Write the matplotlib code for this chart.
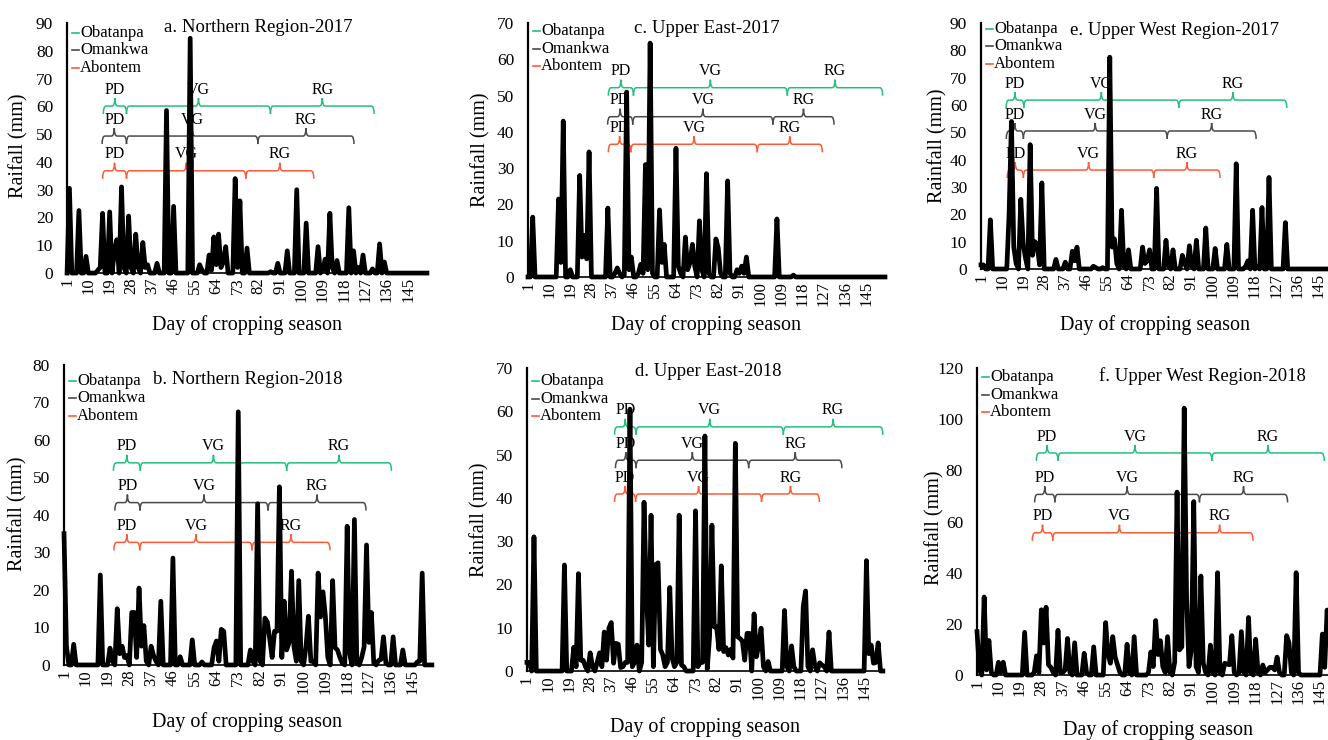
import numpy as np
import matplotlib
matplotlib.use("Agg")
import matplotlib.pyplot as plt
from matplotlib.path import Path
from matplotlib.patches import PathPatch

plt.rcParams['font.family'] = ['Liberation Serif', 'DejaVu Serif']

N_DAYS = 153
FIG_W, FIG_H = 1328, 740
tick_days = list(range(1, 146, 9))
varieties = ["Obatanpa", "Omankwa", "Abontem"]
phases = ["PD", "VG", "RG"]
colors = ["#22c07a", "#4a4a4a", "#ff5a36"]

# daily rainfall as (day, mm); days not listed had no rain
rain_north_2017 = [(2, 30.5), (6, 22.5), (9, 6), (14, 1), (15, 2), (16, 21.5), (19, 22), (21, 8),
                   (22, 12), (24, 31), (25, 2), (27, 20.5), (28, 2), (30, 14), (31, 2), (33, 11),
                   (34, 2), (35, 3), (39, 3.5), (43, 58.5), (46, 24), (53, 84.5), (57, 3), (58, 1),
                   (61, 6.5), (62, 1), (63, 13), (64, 3), (65, 14), (66, 2), (67, 4), (68, 9.5),
                   (72, 34), (73, 2), (74, 26), (77, 9), (87, 0.5), (90, 3.5), (94, 8), (98, 30),
                   (102, 18), (107, 9.5), (109, 1), (110, 5), (112, 21.5), (113, 2), (115, 4.5),
                   (120, 23.5), (122, 8), (124, 2), (126, 6.5), (130, 1.5), (133, 10.5), (135, 4)]

rain_north_2018 = [(1, 35), (2, 5), (5, 5.5), (16, 24), (20, 4.5), (21, 1), (23, 15), (24, 3), (25, 5),
                   (26, 2), (27, 2.5), (29, 14), (30, 14), (31, 2), (32, 20.5), (33, 5), (34, 10.5),
                   (35, 1), (37, 5), (38, 2.5), (39, 1), (41, 17), (46, 28.5), (49, 2.2), (54, 6.7),
                   (58, 0.8), (63, 4.6), (64, 6.4), (65, 1), (66, 9.5), (67, 9), (73, 67.5), (78, 4),
                   (79, 1), (81, 43), (82, 1), (84, 12.5), (85, 11.5), (86, 7), (87, 2), (88, 9),
                   (89, 9), (90, 47.5), (91, 2), (92, 17), (93, 4), (94, 6), (95, 25), (96, 5),
                   (97, 1), (98, 22.5), (99, 1), (101, 5), (102, 13), (103, 1), (104, 1), (106, 24.5),
                   (107, 12.8), (108, 19.5), (109, 13), (110, 2), (112, 22.5), (113, 4.6), (114, 4),
                   (115, 2), (116, 0.5), (118, 37), (119, 3), (121, 38.8), (122, 0.5), (124, 2),
                   (125, 4.8), (126, 32), (127, 6), (128, 14), (129, 0.5), (131, 1.2), (132, 1.5),
                   (133, 7.5), (134, 0.5), (137, 7.5), (141, 4), (147, 0.8), (148, 1), (149, 24.5)]

rain_east_2017 = [(3, 16.5), (14, 21.5), (15, 4), (16, 43), (19, 2), (23, 28), (24, 5.5), (25, 11.5),
                  (26, 5), (27, 34.5), (35, 19), (38, 1), (39, 2.5), (40, 1), (42, 0.5), (43, 51),
                  (44, 2), (45, 5.5), (48, 1), (49, 3.5), (50, 1), (51, 31), (52, 2), (53, 64.5),
                  (54, 1), (57, 18.5), (58, 4), (59, 9), (64, 35.5), (65, 3), (66, 1), (68, 11),
                  (69, 2), (70, 4), (71, 9), (72, 3), (74, 15.5), (75, 2), (77, 28.5), (78, 1),
                  (81, 10.5), (82, 8), (83, 1), (86, 26.5), (87, 1), (90, 2), (91, 1), (92, 3),
                  (93, 1), (94, 5.5), (107, 16), (114, 0.5)]

rain_east_2018 = [(1, 2), (2, 2), (4, 31), (17, 24.5), (21, 5.5), (22, 1), (23, 22.5), (24, 2.5),
                  (25, 2.5), (26, 1), (28, 4.2), (29, 1), (31, 2), (32, 4.2), (33, 1), (34, 9),
                  (35, 2.5), (36, 9.9), (37, 11.2), (38, 1.8), (39, 6.4), (40, 6.2), (41, 0.8),
                  (42, 1), (43, 2), (44, 2), (45, 60.5), (46, 1), (47, 2), (48, 6), (50, 2), (51, 39),
                  (52, 18), (53, 6), (54, 36), (55, 1), (56, 24.6), (57, 25), (58, 5), (59, 3.7),
                  (60, 1), (61, 2), (62, 19.3), (63, 3), (64, 1), (65, 2), (66, 36), (67, 1.4),
                  (68, 1), (73, 37), (74, 1), (75, 2), (76, 2), (77, 54.3), (78, 0.5), (79, 8),
                  (80, 33.7), (81, 10.2), (82, 10.2), (83, 5), (84, 24.3), (85, 4.5), (86, 5.4),
                  (87, 3.7), (88, 5), (89, 3), (90, 52.6), (91, 7.9), (92, 7.5), (93, 6.9), (94, 2.5),
                  (95, 8.7), (96, 8.7), (98, 13.2), (99, 3.3), (100, 6), (101, 9.9), (102, 1),
                  (104, 2.2), (111, 14), (112, 1), (114, 5.8), (115, 1), (119, 14.9), (120, 18.5),
                  (121, 1), (123, 4.9), (124, 1), (126, 1.9), (127, 1.4), (128, 1), (130, 9),
                  (146, 25.5), (147, 4), (148, 6), (149, 1.8), (150, 2), (151, 6.5)]

rain_west_2017 = [(1, 1.5), (2, 1.5), (5, 18), (13, 20), (14, 54), (15, 8), (16, 2), (18, 25.5),
                  (19, 9.5), (20, 4), (22, 45.5), (23, 5), (24, 10), (25, 9), (26, 1.5), (27, 31.5),
                  (33, 3.5), (37, 2.5), (40, 6.5), (41, 3), (42, 8), (49, 1), (50, 0.5), (53, 0.5),
                  (56, 77.5), (57, 8), (58, 11), (59, 2), (61, 21.5), (62, 1), (64, 7), (70, 8),
                  (71, 2), (72, 3), (73, 7), (76, 29.5), (80, 10.5), (81, 1), (83, 7), (87, 5),
                  (88, 2), (90, 8.5), (91, 1), (93, 10.5), (97, 15), (101, 7.5), (106, 9),
                  (110, 38.5), (114, 1), (115, 3), (117, 21.5), (119, 1), (121, 22.5), (124, 33.5),
                  (131, 17)]

rain_west_2018 = [(1, 17), (2, 2), (4, 30.5), (5, 2), (6, 13.5), (7, 1), (10, 5), (11, 1), (12, 5),
                  (21, 16.7), (25, 1), (26, 7.5), (27, 1), (28, 25.5), (29, 12.5), (30, 26.5),
                  (31, 4), (32, 3), (33, 1), (35, 17.5), (36, 1), (37, 1), (38, 2), (39, 14.3),
                  (40, 1), (42, 12.6), (46, 8.5), (47, 1), (50, 11), (55, 20.5), (56, 8), (57, 4.6),
                  (58, 15), (59, 7), (60, 4), (61, 1), (64, 12), (65, 1), (67, 15), (73, 1), (74, 9),
                  (75, 3.3), (76, 21.3), (77, 8), (78, 13.4), (79, 3.3), (80, 1), (81, 15), (82, 1),
                  (84, 5), (85, 71.5), (86, 9.8), (87, 11), (88, 104.3), (89, 30), (90, 3.3),
                  (91, 10), (92, 67.8), (93, 3.3), (94, 1), (95, 38.7), (96, 4.6), (97, 1),
                  (99, 11.7), (100, 1), (102, 40), (103, 1), (105, 4.6), (106, 4.3), (107, 4),
                  (108, 15.4), (109, 1), (111, 1), (112, 17), (113, 1), (115, 22.5), (116, 1),
                  (118, 14), (119, 1), (121, 3.9), (122, 1), (123, 2), (124, 3), (125, 3), (126, 2),
                  (127, 7), (128, 1), (131, 15.4), (132, 12.6), (133, 1), (135, 40), (136, 1),
                  (146, 16), (147, 3), (148, 25.4), (149, 10)]

# growth stage boundaries in days: start PD, start VG, start RG, end RG (Obatanpa, Omankwa, Abontem)
stages_north_2017 = [[16.3, 26.1, 86.9, 130.7], [15.8, 26.1, 81.6, 122.2], [16.0, 26.1, 76.5, 105.2]]
stages_north_2018 = [[21.4, 32.5, 93.0, 136.3], [22.0, 32.4, 85.3, 125.8], [21.6, 32.3, 78.7, 110.9]]
stages_east_2017 = [[35.2, 45.9, 111.4, 152.0], [34.9, 45.6, 105.3, 131.3], [35.2, 44.8, 98.6, 126.3]]
stages_east_2018 = [[38.4, 47.6, 110.5, 153.0], [38.8, 47.6, 95.7, 135.5], [38.4, 47.4, 101.2, 125.9]]
stages_west_2017 = [[11.7, 19.3, 85.5, 131.6], [11.8, 19.1, 80.5, 118.5], [12.2, 19.1, 74.8, 103.1]]
stages_west_2018 = [[25.9, 35.0, 99.6, 146.8], [25.2, 33.7, 94.4, 131.4], [24.2, 32.8, 88.8, 116.9]]


def daily_series(pairs):
    s = np.zeros(N_DAYS)
    for d, mm in pairs:
        s[d - 1] = mm
    return s


def draw_brace(ax, x0, x1, y, color, hook, tip, label):
    dx = 1.2
    xm = (x0 + x1) / 2
    verts = [(x0, y - hook), (x0, y), (x0 + dx, y), (xm - dx, y), (xm, y), (xm, y + tip),
             (xm, y), (xm + dx, y), (x1 - dx, y), (x1, y), (x1, y - hook)]
    codes = [Path.MOVETO, Path.CURVE3, Path.CURVE3, Path.LINETO, Path.CURVE3, Path.CURVE3,
             Path.CURVE3, Path.CURVE3, Path.LINETO, Path.CURVE3, Path.CURVE3]
    ax.add_patch(PathPatch(Path(verts, codes), facecolor="none", edgecolor=color,
                           lw=1.1, zorder=2, clip_on=False))
    ax.text(xm, y + tip * 1.05, label, ha="center", va="bottom", fontsize=11.5, zorder=1)


panels = [
    dict(rect=[0.0505, 0.631, 0.271, 0.338], title="a. Northern Region-2017", title_xy=(0.53, 0.98),
         rain=rain_north_2017, stages=stages_north_2017, ymax=90, ystep=10, levels=[60.1, 49.3, 36.8],
         ylabel="Raifall (mm)", ylabel_xy=(-0.108, 0.51), xlabel_xy=(0.5, -0.168), legend_y=0.96),
    dict(rect=[0.3976, 0.6257, 0.2688, 0.343], title="c. Upper East-2017", title_xy=(0.50, 0.98),
         rain=rain_east_2017, stages=stages_east_2017, ymax=70, ystep=10, levels=[52.2, 44.2, 36.6],
         ylabel="Rainfall (mm)", ylabel_xy=(-0.106, 0.5), xlabel_xy=(0.5, -0.15), legend_y=0.969),
    dict(rect=[0.7387, 0.6365, 0.268, 0.3324], title="e. Upper West Region-2017", title_xy=(0.545, 0.97),
         rain=rain_west_2017, stages=stages_west_2017, ymax=90, ystep=10, levels=[61.8, 50.5, 36.2],
         ylabel="Rainfall (mm)", ylabel_xy=(-0.093, 0.5), xlabel_xy=(0.49, -0.187), legend_y=0.976),
    dict(rect=[0.0482, 0.1014, 0.277, 0.4054], title="b. Northern Region-2018", title_xy=(0.50, 0.95),
         rain=rain_north_2018, stages=stages_north_2018, ymax=80, ystep=10, levels=[53.9, 43.3, 32.7],
         ylabel="Rainfall (mm)", ylabel_xy=(-0.10, 0.503), xlabel_xy=(0.497, -0.157), legend_y=0.947),
    dict(rect=[0.3968, 0.0932, 0.268, 0.4095], title="d. Upper East-2018", title_xy=(0.51, 0.987),
         rain=rain_east_2018, stages=stages_east_2018, ymax=70, ystep=10, levels=[56.4, 48.7, 40.9],
         ylabel="Rainfall (mm)", ylabel_xy=(-0.104, 0.5), xlabel_xy=(0.5, -0.152), legend_y=0.957),
    dict(rect=[0.7357, 0.0878, 0.2726, 0.4149], title="f. Upper West Region-2018", title_xy=(0.624, 0.974),
         rain=rain_west_2018, stages=stages_west_2018, ymax=120, ystep=20, levels=[86.8, 70.6, 55.6],
         ylabel="Rainfall (mm)", ylabel_xy=(-0.091, 0.48), xlabel_xy=(0.5, -0.148), legend_y=0.97),
]

fig = plt.figure(figsize=(FIG_W / 100, FIG_H / 100), dpi=100)
days = np.arange(1, N_DAYS + 1)

for p in panels:
    ax = fig.add_axes(p["rect"])
    w_px = p["rect"][2] * FIG_W
    h_px = p["rect"][3] * FIG_H
    per_px = p["ymax"] / h_px

    ax.plot(days, daily_series(p["rain"]), color="black", lw=3.4, zorder=5, clip_on=False)

    ax.set_xlim(1, N_DAYS)
    ax.set_ylim(0, p["ymax"])
    ax.set_xticks(tick_days)
    ax.set_xticklabels([str(t) for t in tick_days], rotation=90, fontsize=12)
    ax.set_yticks(np.arange(0, p["ymax"] + 1, p["ystep"]))
    ax.tick_params(axis="y", length=0, pad=10, labelsize=12.5)
    ax.tick_params(axis="x", length=0, pad=3)
    for side in ["top", "right"]:
        ax.spines[side].set_visible(False)
    ax.spines["left"].set_linewidth(1.6)
    ax.spines["bottom"].set_linewidth(1.2)

    ax.set_ylabel(p["ylabel"], fontsize=14.5)
    ax.yaxis.set_label_coords(*p["ylabel_xy"])
    ax.set_xlabel("Day of cropping season", fontsize=14.5)
    ax.xaxis.set_label_coords(*p["xlabel_xy"])
    ax.text(*p["title_xy"], p["title"], transform=ax.transAxes, ha="center", va="center", fontsize=13.5)

    # legend: short coloured dash + variety name
    row = 17.5 / h_px
    for i, (name, c) in enumerate(zip(varieties, colors)):
        yy = p["legend_y"] - i * row
        ax.plot([5 / w_px, 12 / w_px], [yy, yy], color=c, lw=1.2, transform=ax.transAxes, clip_on=False)
        ax.text(13 / w_px, yy, name, transform=ax.transAxes, ha="left", va="center", fontsize=12)

    # growth-stage braces
    for stg, lvl, c in zip(p["stages"], p["levels"], colors):
        for k, ph in enumerate(phases):
            draw_brace(ax, stg[k], stg[k + 1], lvl, c, 8 * per_px, 8 * per_px, ph)

fig.savefig("out.png", dpi=100)
